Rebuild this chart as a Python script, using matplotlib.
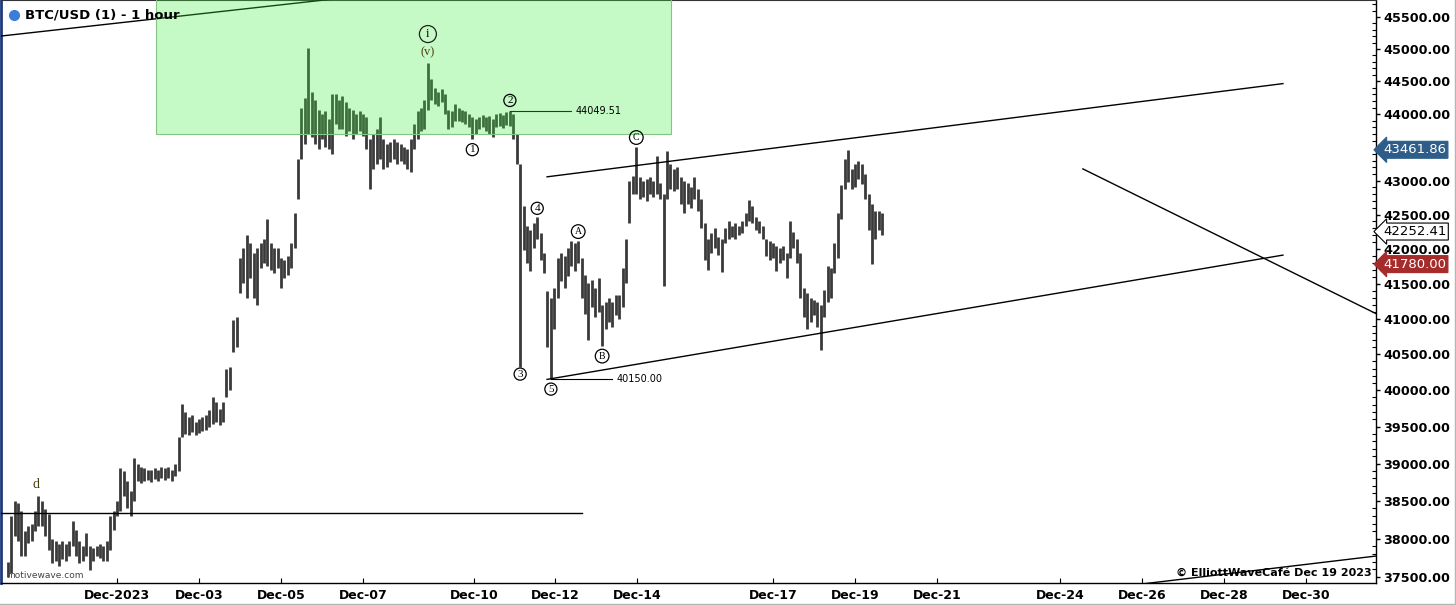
import numpy as np
import matplotlib
matplotlib.use('Agg')
import matplotlib.pyplot as plt
from matplotlib.patches import Rectangle
from matplotlib.lines import Line2D
from matplotlib.ticker import FixedLocator, NullFormatter, FuncFormatter

# ---- data ----
# 2-hour bars, day 1.0 = Dec 1 00:00, first bar Nov 28 08:00
first_bar_day = 1 - 64 / 24
bar_hours = 2

highs = [
    37700, 38300, 38500, 38470, 38370, 38100, 38170, 38200, 38370, 38560,
    38500, 38390, 38330, 38000, 37975, 37935, 37975, 37935, 37975, 38240,
    38110, 37975, 37910, 38080, 37910, 37885, 37910, 37935, 37910, 37975,
    38300, 38370, 38500, 38940, 38900, 38760, 38630, 39070, 39000, 38960,
    38940, 38920, 38910, 38940, 38920, 38950, 38940, 38960, 38920, 38990,
    39365, 39810, 39700, 39635, 39660, 39565, 39610, 39635, 39660, 39730,
    39900, 39840, 39740, 39840, 40290, 40320, 40980, 41020, 41870, 42010,
    42200, 42080, 41940, 42010, 42080, 42150, 42440, 42080, 42010, 42010,
    41870, 41840, 41900, 42080, 42520, 43320, 44100, 44250, 45010, 44340,
    44220, 44070, 44000, 44040, 43920, 44300, 44300, 44220, 44270, 44180,
    44100, 44070, 44000, 44040, 44000, 43950, 43620, 43700, 43770, 43950,
    43620, 43550, 43580, 43620, 43580, 43550, 43500, 43470, 43620, 43850,
    44040, 44100, 44220, 44780, 44530, 44400, 44340, 44390, 44300, 44070,
    44040, 44150, 44100, 44070, 44040, 44000, 43950, 43920, 43950, 43980,
    43950, 43970, 43920, 44000, 44010, 43980, 44025, 44049.51, 44000, 43700,
    43250, 42620, 42340, 42270, 42370, 42470, 42230, 41940, 41400, 41300,
    41440, 41870, 41940, 41900, 42010, 42120, 42080, 42110, 41870, 41620,
    41510, 41550, 41440, 41580, 41200, 41230, 41300, 41230, 41330, 41340,
    41720, 42150, 43000, 43070, 43500, 43060, 43000, 43030, 43060, 43000,
    43370, 42960, 42810, 43440, 43250, 43180, 43210, 43060, 43000, 42960,
    42910, 43060, 42880, 42735, 42370, 42150, 42230, 42300, 42180, 42150,
    42300, 42410, 42330, 42370, 42330, 42410, 42520, 42720, 42620, 42470,
    42410, 42330, 42150, 42120, 42080, 42040, 42010, 42040, 41940, 42410,
    42250, 42150, 41940, 41440, 41370, 41300, 41270, 41230, 41190, 41410,
    41750, 41720, 42080, 42520, 42930, 43320, 43461.86, 43180, 43250, 43290,
    43250, 43100, 42810, 42660, 42550, 42560, 42520,
]
lows = [
    37500, 37560, 38040, 37975, 37780, 37780, 37950, 37975, 38100, 38170,
    38170, 38040, 37850, 37680, 37715, 37650, 37740, 37715, 37780, 37910,
    37780, 37680, 37715, 37780, 37590, 37715, 37780, 37750, 37715, 37715,
    37850, 38110, 38300, 38370, 38560, 38400, 38300, 38500, 38760, 38735,
    38760, 38775, 38750, 38790, 38760, 38800, 38775, 38800, 38760, 38830,
    38900, 39365, 39400, 39390, 39430, 39390, 39420, 39445, 39460, 39500,
    39540, 39565, 39525, 39565, 39900, 40000, 40530, 40600, 41370, 41510,
    41300, 41580, 41300, 41200, 41720, 41800, 41750, 41700, 41650, 41720,
    41440, 41580, 41620, 41720, 42010, 42735, 43320, 43550, 43700, 43650,
    43550, 43470, 43620, 43500, 43470, 43400, 43850, 43770, 43770, 43670,
    43740, 43620, 43700, 43740, 43670, 43470, 42880, 43180, 43250, 43320,
    43180, 43200, 43280, 43320, 43250, 43300, 43250, 43180, 43130, 43470,
    43620, 43740, 43770, 44070, 44220, 44150, 44120, 44180, 44000, 43770,
    43800, 43890, 43900, 43880, 43850, 43800, 43620, 43700, 43770, 43800,
    43740, 43700, 43650, 43800, 43815, 43785, 43830, 43815, 43620, 43250,
    40320, 41980, 41800, 41680, 42010, 42150, 41840, 41650, 40600, 40150,
    40850, 41300, 41540, 41440, 41610, 41750, 41680, 41800, 41300, 41060,
    40700, 41160, 41020, 41090, 40620, 40850, 40950, 40880, 41050, 40990,
    41160, 41510, 42370, 42800, 42800, 42735, 42760, 42700, 42800, 42760,
    42800, 42735, 41470, 42735, 42880, 42850, 42880, 42660, 42520, 42660,
    42590, 42735, 42560, 42300, 41840, 41700, 41940, 42010, 41910, 41670,
    42080, 42150, 42180, 42150, 42200, 42230, 42330, 42410, 42370, 42270,
    42230, 42150, 41900, 41840, 41870, 41680, 41800, 41840, 41580, 41870,
    42010, 41800, 41300, 41020, 40850, 40950, 41050, 40880, 40560, 41020,
    41230, 41300, 41650, 41870, 42440, 42880, 42980, 42880, 42910, 43030,
    42950, 42735, 42270, 41780, 42150, 42270, 42200,
]

x_tick_days = [1, 3, 5, 7, 9.71, 11.68, 13.68, 17, 19, 21, 24, 26, 28, 30]
x_tick_labels = ['Dec-2023', 'Dec-03', 'Dec-05', 'Dec-07', 'Dec-10', 'Dec-12', 'Dec-14',
                 'Dec-17', 'Dec-19', 'Dec-21', 'Dec-24', 'Dec-26', 'Dec-28', 'Dec-30']
y_ticks = list(range(37500, 46000, 500))

last_high = 43461.86
last_close = 42252.41
last_low = 41780.00
level_2 = 44049.51
level_5 = 40150.00
h_line_price = 38340

# trend lines ((day, price), (day, price))
trend_lines = [
    ((-1.9, 45197), (6.5, 45800)),
    ((11.49, 43058), (29.44, 44466)),
    ((11.49, 40150), (29.44, 41910)),
    ((24.56, 43176), (31.71, 41072)),
    ((25.9, 37406), (31.71, 37775)),
]
# green zone (day from, day to, price bottom)
zone = (1.95, 14.51, 43700)

# wave labels: (text, bar index, at high?, offset in points)
wave_labels = [
    ('1', 136, False, -7.5),
    ('2', 147, True, 7.5),
    ('3', 150, False, -5),
    ('4', 155, True, 6),
    ('5', 159, False, -7),
    ('A', 167, True, 7),
    ('B', 174, False, -7.5),
    ('C', 184, True, 7),
]

# ---- plot ----
fig = plt.figure(figsize=(14.56, 6.05), dpi=100)
ax = fig.add_axes([1 / 1456, 22 / 605, 1375 / 1456, 583 / 605])
ax.set_yscale('log')

bar_x = first_bar_day + np.arange(len(highs)) * bar_hours / 24
ax.vlines(bar_x, lows, highs, color='#3a3a3a', lw=2.0, zorder=2)

for (d0, p0), (d1, p1) in trend_lines:
    ax.plot([d0, d1], [p0, p1], color='black', lw=1.0, zorder=3)
ax.plot([-1.83, 12.34], [h_line_price, h_line_price], color='black', lw=1.0, zorder=3)

# price marker lines
i2 = highs.index(level_2)
i5 = lows.index(level_5)
ax.plot([bar_x[i2], bar_x[i2] + 1.5], [level_2, level_2], color='black', lw=0.8, zorder=3)
ax.text(bar_x[i2] + 1.6, level_2, '44049.51', fontsize=7, va='center', ha='left', zorder=6)
ax.plot([bar_x[i5], bar_x[i5] + 1.5], [level_5, level_5], color='black', lw=0.8, zorder=3)
ax.text(bar_x[i5] + 1.6, level_5, '40150.00', fontsize=7, va='center', ha='left', zorder=6)

# green zone
ax.add_patch(Rectangle((zone[0], zone[2]), zone[1] - zone[0], 50000 - zone[2],
                       facecolor=(0.26, 0.93, 0.26), alpha=0.3, edgecolor='none', zorder=4))
ax.add_patch(Rectangle((zone[0], zone[2]), zone[1] - zone[0], 50000 - zone[2],
                       facecolor='none', edgecolor='#86c486', lw=0.8, zorder=4))

# wave labels
for txt, i, at_high, off in wave_labels:
    y = highs[i] if at_high else lows[i]
    digit = txt.isdigit()
    ax.annotate(txt, xy=(bar_x[i], y), xytext=(0, off), textcoords='offset points',
                ha='center', va='center', fontsize=8 if digit else 7,
                family='Liberation Serif', zorder=6,
                bbox=dict(boxstyle='circle,pad=%.2f' % (0.14 if digit else 0.24),
                          fc='none', ec='black', lw=0.9))
i_top = highs.index(max(highs[100:150]))
ax.annotate('i', xy=(bar_x[i_top], highs[i_top]), xytext=(0, 21), textcoords='offset points',
            ha='center', va='center', fontsize=9, family='Liberation Serif', zorder=6,
            bbox=dict(boxstyle='circle,pad=0.2', fc='none', ec='#222222', lw=0.9))
ax.annotate('(v)', xy=(bar_x[i_top], highs[i_top]), xytext=(0, 8), textcoords='offset points',
            ha='center', va='center', fontsize=9, family='Liberation Serif', color='#4a3d10', zorder=6)
ax.annotate('d', xy=(bar_x[9], highs[9]), xytext=(-2, 8.5), textcoords='offset points',
            ha='center', va='center', fontsize=10, family='Liberation Serif', color='#4a3d10', zorder=6)

# axes
ax.set_xlim(-1.83, 31.71)
ax.set_ylim(37425, 45768)
ax.xaxis.set_major_locator(FixedLocator(x_tick_days))
ax.set_xticklabels(x_tick_labels, fontsize=9, fontweight='bold')
ax.yaxis.tick_right()
ax.yaxis.set_major_locator(FixedLocator(y_ticks))
# 43500 sits behind the last-high tag
ax.yaxis.set_major_formatter(FuncFormatter(lambda v, p: '' if v == 43500 else f'{v:.2f}'))
ax.yaxis.set_minor_locator(FixedLocator(np.arange(37400, 45800, 100)))
ax.yaxis.set_minor_formatter(NullFormatter())
ax.tick_params(axis='y', which='major', direction='out', length=3, width=1, pad=2, labelsize=9.2)
ax.tick_params(axis='y', which='minor', direction='in', length=3, width=0.8)
ax.tick_params(axis='x', which='major', direction='in', length=3.5, width=0.8, pad=4)
plt.setp(ax.get_yticklabels(), fontweight='bold')

ax.spines['left'].set_color('#1f3a7a')
ax.spines['left'].set_linewidth(2)
ax.spines['top'].set_color('#333333')
ax.spines['right'].set_linewidth(1)
ax.spines['bottom'].set_linewidth(1)

# price tags on the right
for price, fc, tc, ec in [(last_high, '#2f5d8a', 'white', '#2f5d8a'),
                          (last_close, 'white', 'black', 'black'),
                          (last_low, '#a62b2b', 'white', '#a62b2b')]:
    ax.annotate(f'{price:.2f}', xy=(1, price), xycoords=('axes fraction', 'data'),
                xytext=(5, 0), textcoords='offset points', ha='left', va='center',
                fontsize=9.5, color=tc, annotation_clip=False, zorder=10,
                bbox=dict(boxstyle='larrow,pad=0.15', fc=fc, ec=ec, lw=0.8))

# title, credits
ax.plot([13 / 1375], [1 - 15 / 583], 'o', ms=7, color='#3b7dd8',
        transform=ax.transAxes, clip_on=False, zorder=10)
fig.text(25 / 1456, 1 - 15 / 605, 'BTC/USD (1) - 1 hour', fontsize=9.5,
         fontweight='bold', va='center', ha='left')
ax.text(1 - 4 / 1375, 10 / 583, '\u00a9 ElliottWaveCaf\u00e9 Dec 19 2023', transform=ax.transAxes,
        ha='right', va='center', fontsize=8, fontweight='bold', zorder=6)
ax.text(5 / 1375, 8 / 583, 'motivewave.com', transform=ax.transAxes,
        ha='left', va='center', fontsize=6.5, color='#444444', zorder=6)

fig.add_artist(Line2D([0, 1], [1.5 / 605, 1.5 / 605], color='#b5b5b5', lw=1))
fig.add_artist(Line2D([1454.5 / 1456, 1454.5 / 1456], [0, 1], color='#b5b5b5', lw=1))

fig.savefig('out.png', dpi=100, facecolor='white')
